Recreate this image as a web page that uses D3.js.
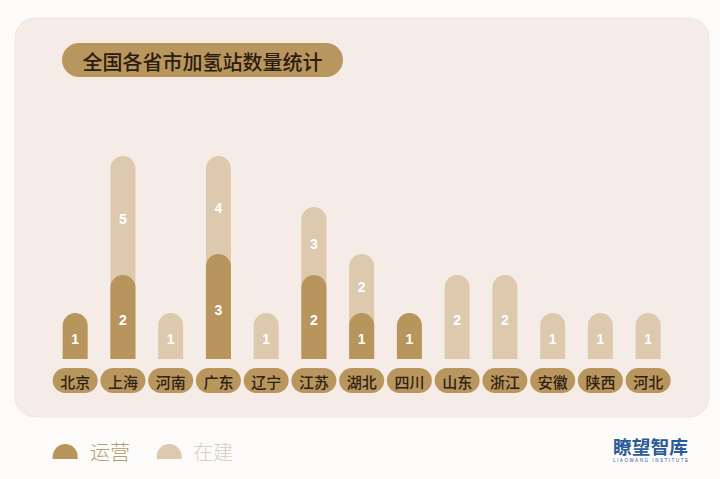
<!DOCTYPE html>
<html>
<head>
<meta charset="utf-8">
<script src="https://cdn.jsdelivr.net/npm/d3@7"></script>
<style>
  html, body { margin: 0; padding: 0; background: #fdfbfa; }
  svg { display: block; }
</style>
</head>
<body>
<svg id="chart" width="720" height="479"></svg>
<script>
const title = "全国各省市加氢站数量统计";
const categories = ["北京","上海","河南","广东","辽宁","江苏","湖北","四川","山东","浙江","安徽","陕西","河北"];
const operating = [1,2,0,3,0,2,1,1,0,0,0,0,0];
const building  = [0,5,1,4,1,3,2,0,2,2,1,1,1];
const seriesNames = ["运营","在建"];
const logoText = "瞭望智库";
const logoSub = "LIAOWANG INSTITUTE";

const W = 720, H = 479;
const svg = d3.select("#chart");
const cjk = "'Noto Sans CJK SC','Noto Sans',sans-serif";
const numFont = "'Liberation Sans',Arial,sans-serif";
const darkC = "#b8955c", lightC = "#dcc9ae", pillC = "#b9965d";

// page panel
svg.append("rect").attr("x",0).attr("y",0).attr("width",W).attr("height",H).attr("fill","#fdfbfa");
svg.append("rect").attr("x",15).attr("y",18).attr("width",694).attr("height",399)
  .attr("rx",20).attr("fill","#f5ece8").attr("stroke","#f0e6e1").attr("stroke-width",1);

// title pill
svg.append("rect").attr("x",62).attr("y",43).attr("width",281).attr("height",34).attr("rx",17).attr("fill",pillC);
svg.append("text").attr("x",202.5).attr("y",61).attr("text-anchor","middle").attr("dominant-baseline","central")
  .attr("font-family",cjk).attr("font-size",20).attr("font-weight",500).attr("fill","#2a1c0f").text(title);

// scales
const x = d3.scaleBand().domain(categories).range([51.3, 672]).paddingInner(0.476).paddingOuter(0.238);
const y = d3.scaleLinear().domain([0,1,2,3,5,7]).range([359,313,275,254,207,156]);
const bw = x.bandwidth();
const r = bw/2;

function domePath(x0, top, bottom) {
  const h = bottom - top;
  if (h <= 0) return "";
  const rr = Math.min(r, h);
  return `M${x0},${bottom} L${x0},${top+rr} A${r},${rr} 0 0 1 ${x0+bw},${top+rr} L${x0+bw},${bottom} Z`;
}

const data = categories.map((c,i) => ({c, op: operating[i], bd: building[i], total: operating[i]+building[i]}));

const g = svg.append("g");
// light (total) bars
g.selectAll("path.light").data(data.filter(d=>d.bd>0)).join("path").attr("class","light")
  .attr("d", d => domePath(x(d.c), y(d.total), y(0))).attr("fill", lightC);
// dark (operating) bars
g.selectAll("path.dark").data(data.filter(d=>d.op>0)).join("path").attr("class","dark")
  .attr("d", d => domePath(x(d.c), y(d.op), y(0))).attr("fill", darkC);

// value labels
const labels = [];
data.forEach(d => {
  if (d.op > 0) labels.push({c:d.c, v:d.op, top:y(d.op), bottom:y(0)});
  if (d.bd > 0) labels.push({c:d.c, v:d.bd, top:y(d.total), bottom:y(d.op)});
});
g.selectAll("text.val").data(labels).join("text").attr("class","val")
  .attr("x", d => x(d.c) + bw/2)
  .attr("y", d => (d.top + 6 + d.bottom)/2)
  .attr("text-anchor","middle").attr("dominant-baseline","central")
  .attr("font-family",numFont).attr("font-weight","bold").attr("font-size",14).attr("fill","#ffffff")
  .text(d => d.v);

// category pills
const pillW = 45, pillH = 25;
const pills = svg.append("g").selectAll("g").data(categories).join("g")
  .attr("transform", c => `translate(${x(c)+bw/2},${368})`);
pills.append("rect").attr("x",-pillW/2).attr("y",0).attr("width",pillW).attr("height",pillH).attr("rx",12.5).attr("fill",pillC);
pills.append("text").attr("x",0).attr("y",pillH/2+0.5).attr("text-anchor","middle").attr("dominant-baseline","central")
  .attr("font-family",cjk).attr("font-size",15).attr("font-weight",500).attr("fill","#2e2113").text(c=>c);

// legend
const legend = [{name:seriesNames[0], fill:darkC, text:"#b69a6f", x:52.7, tx:90},
                {name:seriesNames[1], fill:lightC, text:"#d8cdc1", x:156.7, tx:193}];
const lg = svg.append("g").selectAll("g").data(legend).join("g");
lg.append("path").attr("d", d => {
  const x0 = d.x, top = 444, bottom = 459, rr = 12.5;
  return `M${x0},${bottom} L${x0},${top+rr} A${rr},${rr} 0 0 1 ${x0+25},${top+rr} L${x0+25},${bottom} Z`;
}).attr("fill", d=>d.fill);
lg.append("text").attr("x", d=>d.tx).attr("y",451).attr("dominant-baseline","central")
  .attr("font-family",cjk).attr("font-size",20).attr("font-weight",300).attr("fill",d=>d.text).text(d=>d.name);

// logo
svg.append("text").attr("x",613).attr("y",454).attr("font-family",cjk).attr("font-size",18.5).attr("font-weight",700)
  .attr("fill","#2b5c98").attr("textLength",75).attr("lengthAdjust","spacingAndGlyphs").text(logoText);
svg.append("text").attr("x",613).attr("y",461.5).attr("font-family",numFont).attr("font-size",4.5)
  .attr("fill","#2b5c98").attr("textLength",75).text(logoSub);
</script>
</body>
</html>
